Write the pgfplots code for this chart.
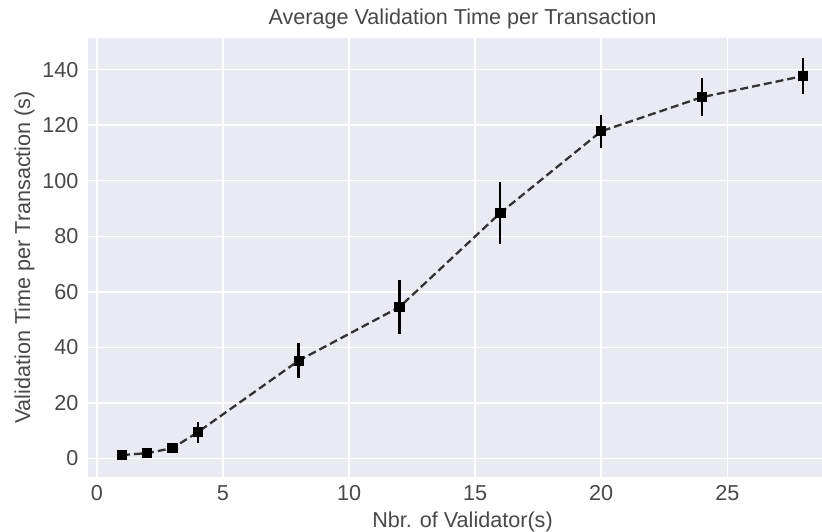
\documentclass[border=0pt]{standalone}
\usepackage{fontspec}
\setmainfont{Liberation Sans}
\usepackage{pgfplots}
\pgfplotsset{compat=1.18}

\definecolor{sbbg}{RGB}{234,234,242}
\definecolor{sbtext}{RGB}{72,72,72}
\definecolor{sbline}{RGB}{51,51,51}

\begin{document}
\begin{tikzpicture}
  \begin{axis}[
      scale only axis,
      width=749pt, height=439pt,
      xmin=-0.35, xmax=29.35,
      ymin=-6.7, ymax=151.4,
      xtick={0,5,10,15,20,25},
      ytick={0,20,40,60,80,100,120,140},
      axis background/.style={fill=sbbg},
      axis line style={draw=none},
      major tick length=0pt,
      grid=major,
      major grid style={white, line width=1.5pt},
      /pgf/number format/assume math mode=true,
      tick label style={font=\fontsize{21.6}{26}\selectfont, text=sbtext},
      xticklabel style={yshift=-5pt},
      yticklabel style={xshift=-6pt},
      label style={font=\fontsize{21.6}{26}\selectfont, text=sbtext},
      xlabel={Nbr. of Validator(s)},
      ylabel={Validation Time per Transaction (s)},
      xlabel style={at={(axis description cs:0.5,-0.115)}, anchor=base},
      ylabel style={at={(axis description cs:-0.0774,0.5)}, anchor=base},
      title={Average Validation Time per Transaction},
      title style={at={(axis description cs:0.5,1.0166)}, anchor=base,
        font=\fontsize{21.6}{26}\selectfont, text=sbtext},
    ]
    \addplot[
      sbline, line width=2.3pt, dash pattern=on 8pt off 4pt,
      mark=square*, mark size=4.6pt,
      mark options={solid, fill=black, draw=black, line width=0.8pt},
      error bars/.cd, y dir=both, y explicit,
      error mark=none,
      error bar style={solid, black, line width=2.2pt},
    ] table[x=n, y=t, y error=e] {
      n   t      e
      1   1.2    0.5
      2   1.9    0.6
      3   3.7    1.2
      4   9.4    3.7
      8   35.2   6.3
      12  54.5   9.7
      16  88.4   11.1
      20  117.8  5.9
      24  130.1  6.9
      28  137.7  6.6
    };
  \end{axis}
  \pgfresetboundingbox
  \path[use as bounding box] (-88pt,-54pt) rectangle (734pt,477pt);
\end{tikzpicture}
\end{document}
